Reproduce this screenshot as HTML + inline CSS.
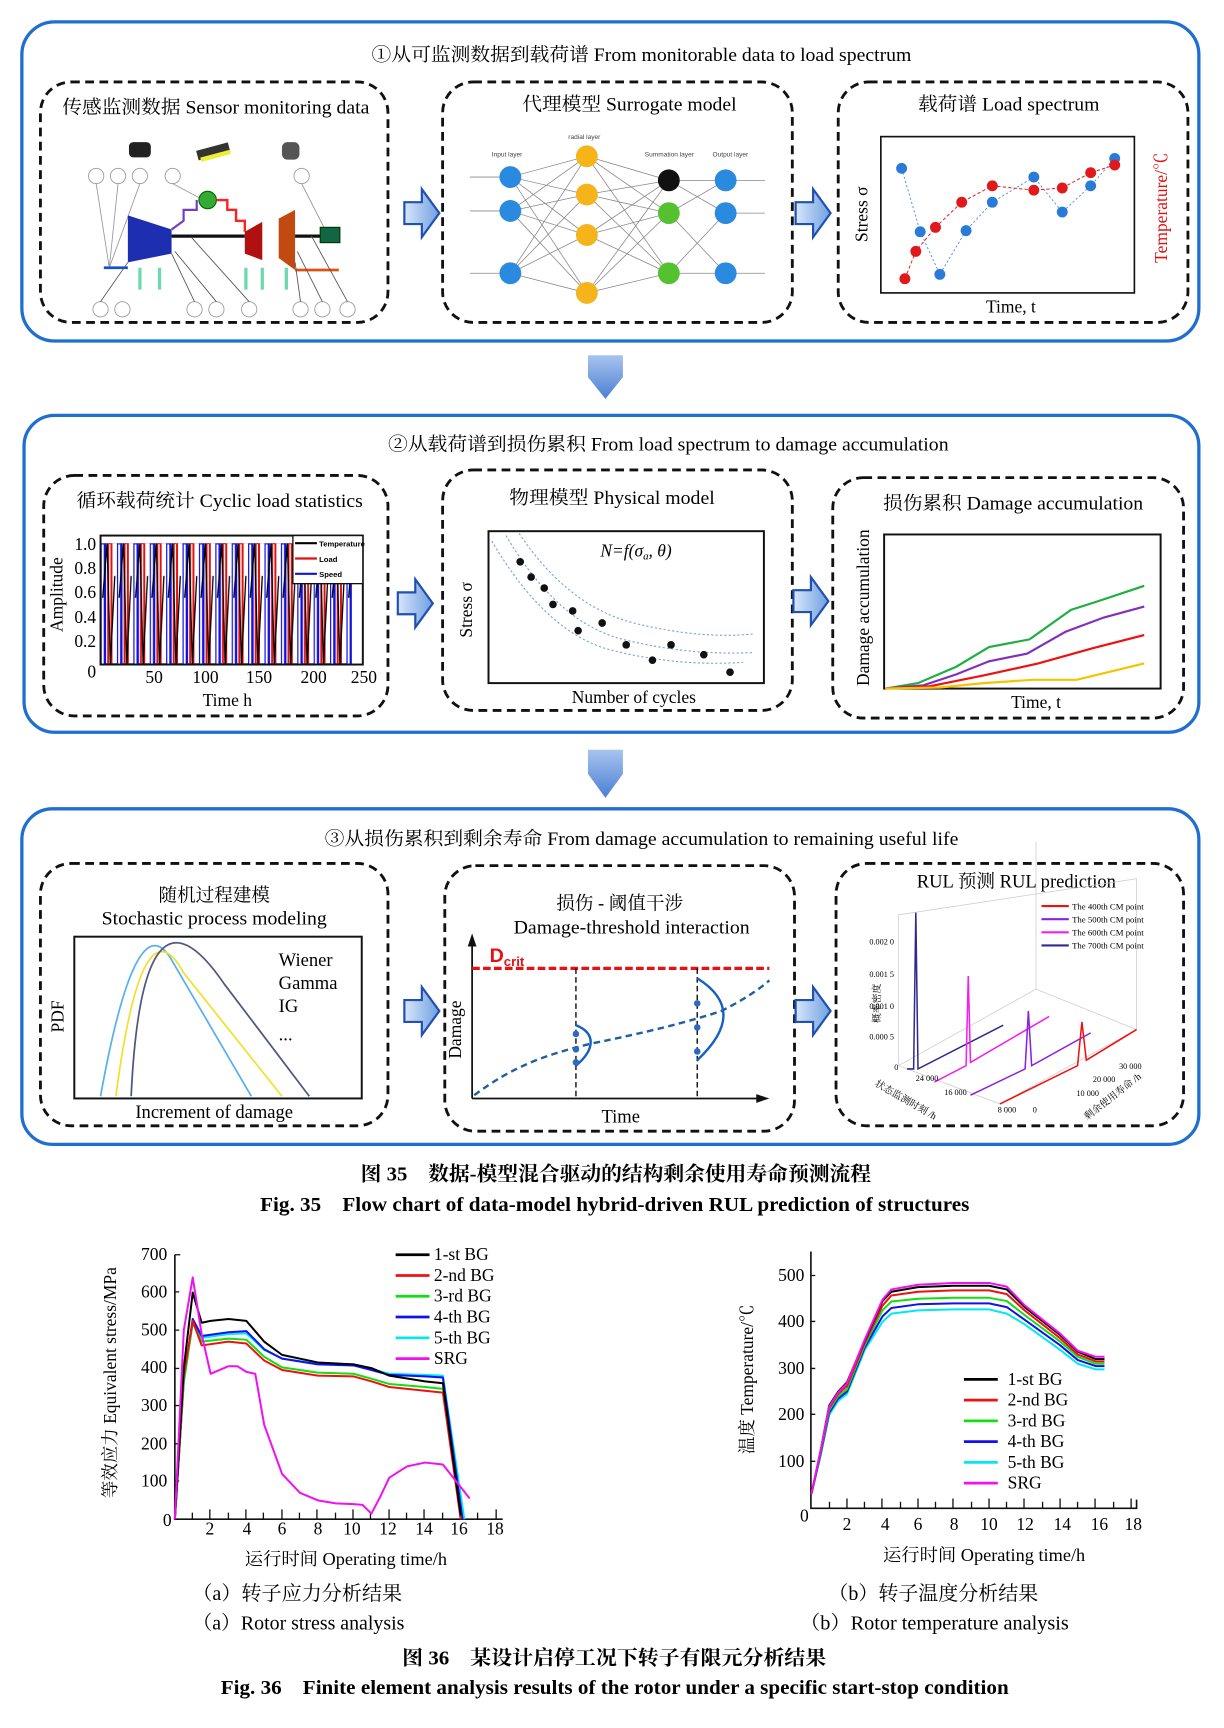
<!DOCTYPE html>
<html><head><meta charset="utf-8"><style>html,body{margin:0;padding:0;background:#fff}svg{display:block}</style></head>
<body>
<svg width="1224" height="1728" viewBox="0 0 1120 1581" preserveAspectRatio="none" xmlns="http://www.w3.org/2000/svg" font-family="'Liberation Serif','Noto Serif CJK SC',serif">
<defs>
<linearGradient id="ag" x1="0" y1="0" x2="1" y2="0"><stop offset="0" stop-color="#d8e6fb"/><stop offset="1" stop-color="#6f9fe0"/></linearGradient>
<linearGradient id="dg" x1="0" y1="0" x2="0" y2="1"><stop offset="0" stop-color="#a8c4ee"/><stop offset="1" stop-color="#4a7fd4"/></linearGradient>
<pattern id="sq" x="92" y="497" width="15" height="111" patternUnits="userSpaceOnUse">
<path d="M0,111 V0 H4 V111 H15" fill="none" stroke="#1010e0" stroke-width="2.2"/>
<path d="M7,111 V0 H10 V111" fill="none" stroke="#e01010" stroke-width="1.8"/>
<path d="M2,50 L6,0 L9,111 L13,30" fill="none" stroke="#000" stroke-width="1.2"/>
</pattern>
<g id="rarrow"><path d="M0,-10 H16 V-22 L32,0 L16,22 V10 H0 Z" fill="url(#ag)" stroke="#2050b0" stroke-width="2"/></g>
</defs>

<!-- ===== Section 1 ===== -->
<rect x="20" y="20" width="1077" height="292" rx="30" fill="#fff" stroke="#1f6fd0" stroke-width="3"/>
<text x="340" y="56" font-size="17" textLength="494" lengthAdjust="spacingAndGlyphs">①从可监测数据到载荷谱 From monitorable data to load spectrum</text>
<g fill="none" stroke="#111" stroke-width="2.6" stroke-dasharray="8,5">
<rect x="37" y="75" width="318" height="220" rx="28"/>
<rect x="405" y="75" width="320" height="220" rx="28"/>
<rect x="767" y="75" width="320" height="220" rx="28"/>
</g>
<text x="57" y="104" font-size="17" textLength="281" lengthAdjust="spacingAndGlyphs">传感监测数据 Sensor monitoring data</text>
<text x="478" y="101" font-size="17" textLength="196" lengthAdjust="spacingAndGlyphs">代理模型 Surrogate model</text>
<text x="840" y="101" font-size="17" textLength="166" lengthAdjust="spacingAndGlyphs">载荷谱 Load spectrum</text>
<!-- engine -->
<g>
<rect x="118" y="130" width="20" height="14" fill="#222" rx="4"/>
<rect x="180" y="134" width="30" height="9" fill="#333" transform="rotate(-15 195 138)"/>
<rect x="182" y="141" width="28" height="4" fill="#ee3" transform="rotate(-15 195 138)"/>
<rect x="258" y="130" width="16" height="16" fill="#555" rx="5"/>
<g fill="none" stroke="#999" stroke-width="0.8"><circle cx="88" cy="161" r="7"/><circle cx="108" cy="161" r="7"/><circle cx="128" cy="161" r="7"/><circle cx="158" cy="161" r="7"/><circle cx="276" cy="161" r="7"/>
<circle cx="92" cy="283" r="7"/><circle cx="112" cy="283" r="7"/><circle cx="178" cy="283" r="7"/><circle cx="198" cy="283" r="7"/><circle cx="228" cy="283" r="7"/><circle cx="275" cy="283" r="7"/><circle cx="295" cy="283" r="7"/><circle cx="318" cy="283" r="7"/>
<path d="M88,168 L100,245 M108,168 L100,245 M128,168 L100,245 M158,168 L190,185 M276,168 L300,215"/></g>
<path d="M117,197 L157,210 L157,232 L117,240 Z" fill="#1d2fb0"/>
<path d="M157,210 L168,202 V192 L180,192 V183" fill="none" stroke="#7040c0" stroke-width="2"/>
<circle cx="190" cy="183" r="8" fill="#3a3" stroke="#060" stroke-width="1"/>
<path d="M198,183 H208 V192 H216 V202 H224 V212" fill="none" stroke="#f22" stroke-width="2.2"/>
<path d="M224,212 L240,203 V238 L224,232 Z" fill="#b01010"/>
<path d="M255,200 L270,192 V247 L255,236 Z" fill="#c04a10"/>
<line x1="157" y1="216" x2="224" y2="216" stroke="#111" stroke-width="3"/>
<line x1="270" y1="216" x2="295" y2="216" stroke="#111" stroke-width="3"/>
<rect x="293" y="208" width="18" height="14" fill="#164" stroke="#030" />
<path d="M95,245 H117" stroke="#1550d0" stroke-width="2.5"/>
<path d="M270,247 H310" stroke="#e05010" stroke-width="2.5"/>
<g stroke="#6ed8b0" stroke-width="3"><path d="M128,265 V245 M146,265 V245 M225,265 V245 M240,265 V245 M262,265 V245"/></g>
<g stroke="#555" stroke-width="0.8" fill="none"><path d="M117,240 L92,276 M157,232 L178,276 M160,230 L198,276 M175,217 L228,276 M270,240 L275,276 M272,230 L295,276 M285,216 L318,276"/></g>
</g>
<!-- network -->
<g stroke="#888" stroke-width="0.7" fill="none">
<path d="M467,162 L537,143 L612,165 M467,162 L537,178 L612,195 M467,162 L537,215 L612,250 M467,162 L537,268 L612,165 M467,193 L537,143 L612,250 M467,193 L537,178 L612,165 M467,193 L537,215 L612,195 M467,193 L537,268 L612,250 M467,250 L537,143 L612,195 M467,250 L537,178 L612,250 M467,250 L537,215 L612,165 M467,250 L537,268 L612,195 M612,165 L664,195 M612,195 L664,165 M612,195 L664,250 M612,250 L664,195 M612,165 L664,165 M612,250 L664,250 M430,162 H467 M430,193 H467 M430,250 H467 M664,165 H700 M664,195 H700 M664,250 H700"/>
</g>
<g fill="#2a8ae0"><circle cx="467" cy="162" r="10"/><circle cx="467" cy="193" r="10"/><circle cx="467" cy="250" r="10"/><circle cx="664" cy="165" r="10"/><circle cx="664" cy="195" r="10"/><circle cx="664" cy="250" r="10"/></g>
<g fill="#f4b41a"><circle cx="537" cy="143" r="10"/><circle cx="537" cy="178" r="10"/><circle cx="537" cy="215" r="10"/><circle cx="537" cy="268" r="10"/></g>
<circle cx="612" cy="165" r="10" fill="#111"/><circle cx="612" cy="195" r="10" fill="#55c030"/><circle cx="612" cy="250" r="10" fill="#55c030"/>
<g font-size="6" font-family="'Liberation Sans',sans-serif" fill="#444"><text x="450" y="143">Input layer</text><text x="520" y="127">radial layer</text><text x="590" y="143">Summation layer</text><text x="652" y="143">Output layer</text></g>
<!-- load spectrum -->
<rect x="806" y="125" width="232" height="143" fill="#fff" stroke="#111" stroke-width="1.5"/>
<polyline points="825,154 842,212 860,251 884,211 908,185 946,162 972,194 998,170 1020,145" fill="none" stroke="#4a8ad8" stroke-width="0.8" stroke-dasharray="2,2"/>
<polyline points="828,255 838,230 856,208 880,185 908,170 946,174 972,172 998,158 1020,151" fill="none" stroke="#e02020" stroke-width="0.9" stroke-dasharray="3,2"/>
<g fill="#2a7ad8"><circle cx="825" cy="154" r="5"/><circle cx="842" cy="212" r="5"/><circle cx="860" cy="251" r="5"/><circle cx="884" cy="211" r="5"/><circle cx="908" cy="185" r="5"/><circle cx="946" cy="162" r="5"/><circle cx="972" cy="194" r="5"/><circle cx="998" cy="170" r="5"/><circle cx="1020" cy="145" r="5"/></g>
<g fill="#e01a1a"><circle cx="828" cy="255" r="5"/><circle cx="838" cy="230" r="5"/><circle cx="856" cy="208" r="5"/><circle cx="880" cy="185" r="5"/><circle cx="908" cy="170" r="5"/><circle cx="946" cy="174" r="5"/><circle cx="972" cy="172" r="5"/><circle cx="998" cy="158" r="5"/><circle cx="1020" cy="151" r="5"/></g>
<text x="925" y="286" font-size="16" text-anchor="middle">Time, t</text>
<text transform="translate(794,196) rotate(-90)" font-size="16" text-anchor="middle">Stress σ</text>
<text transform="translate(1068,190) rotate(-90)" font-size="16" text-anchor="middle" fill="#e01010">Temperature/℃</text>
<use href="#rarrow" x="370" y="195"/><use href="#rarrow" x="728" y="195"/>
<path d="M538,325 H570 V345 L554,365 L538,345 Z" fill="url(#dg)"/>

<!-- ===== Section 2 ===== -->
<rect x="22" y="380" width="1075" height="290" rx="28" fill="#fff" stroke="#1f6fd0" stroke-width="3"/>
<text x="355" y="412" font-size="17" textLength="513" lengthAdjust="spacingAndGlyphs">②从载荷谱到损伤累积 From load spectrum to damage accumulation</text>
<g fill="none" stroke="#111" stroke-width="2.6" stroke-dasharray="8,5">
<rect x="40" y="435" width="315" height="220" rx="28"/>
<rect x="405" y="430" width="320" height="220" rx="28"/>
<rect x="762" y="437" width="321" height="220" rx="28"/>
</g>
<text x="70" y="464" font-size="17" textLength="262" lengthAdjust="spacingAndGlyphs">循环载荷统计 Cyclic load statistics</text>
<text x="466" y="461" font-size="17" textLength="188" lengthAdjust="spacingAndGlyphs">物理模型 Physical model</text>
<text x="808" y="466" font-size="17" textLength="238" lengthAdjust="spacingAndGlyphs">损伤累积 Damage accumulation</text>
<rect x="92" y="497" width="230" height="111" fill="url(#sq)"/>
<rect x="92" y="490" width="240" height="118" fill="none" stroke="#111" stroke-width="1.8"/>
<rect x="268" y="490" width="64" height="44" fill="#fff" stroke="#111" stroke-width="1.2"/>
<g font-size="7" font-family="'Liberation Sans',sans-serif" font-weight="bold"><line x1="270" y1="497" x2="290" y2="497" stroke="#000" stroke-width="2"/><text x="292" y="500">Temperature</text><line x1="270" y1="511" x2="290" y2="511" stroke="#e01010" stroke-width="2"/><text x="292" y="514">Load</text><line x1="270" y1="525" x2="290" y2="525" stroke="#1010e0" stroke-width="2"/><text x="292" y="528">Speed</text></g>
<g font-size="16" text-anchor="end"><text x="88" y="503">1.0</text><text x="88" y="525">0.8</text><text x="88" y="547">0.6</text><text x="88" y="570">0.4</text><text x="88" y="592">0.2</text><text x="88" y="620">0</text></g>
<g font-size="16" text-anchor="middle"><text x="141" y="625">50</text><text x="188" y="625">100</text><text x="237" y="625">150</text><text x="287" y="625">200</text><text x="333" y="625">250</text></g>
<text x="208" y="646" font-size="16" text-anchor="middle">Time h</text>
<text transform="translate(57,544) rotate(-90)" font-size="16" text-anchor="middle">Amplitude</text>
<!-- physical -->
<rect x="447" y="486" width="252" height="139" fill="#fff" stroke="#111" stroke-width="1.8"/>
<text x="582" y="509" font-size="16" font-style="italic" text-anchor="middle">N=f(σ<tspan font-size="10" dy="3">a</tspan><tspan dy="-3">, θ)</tspan></text>
<g fill="none" stroke="#7aa0d0" stroke-width="1" stroke-dasharray="2,2"><path d="M450,495 Q500,580 560,595 T680,606"/><path d="M463,490 Q510,570 570,585 T690,597"/><path d="M475,488 Q520,555 580,570 T690,580"/></g>
<g fill="#111"><circle cx="476" cy="514" r="3.5"/><circle cx="486" cy="528" r="3.5"/><circle cx="498" cy="538" r="3.5"/><circle cx="506" cy="553" r="3.5"/><circle cx="524" cy="559" r="3.5"/><circle cx="529" cy="577" r="3.5"/><circle cx="551" cy="570" r="3.5"/><circle cx="573" cy="590" r="3.5"/><circle cx="597" cy="604" r="3.5"/><circle cx="614" cy="590" r="3.5"/><circle cx="644" cy="599" r="3.5"/><circle cx="668" cy="615" r="3.5"/></g>
<text x="580" y="643" font-size="16" text-anchor="middle">Number of cycles</text>
<text transform="translate(432,558) rotate(-90)" font-size="16" text-anchor="middle">Stress σ</text>
<!-- damage accum -->
<rect x="809" y="489" width="253" height="141" fill="#fff" stroke="#111" stroke-width="1.8"/>
<polyline points="810,630 840,625 875,610 905,592 942,585 980,558 1005,550 1047,536" fill="none" stroke="#1db040" stroke-width="2"/>
<polyline points="810,630 845,627 875,617 905,605 940,598 975,578 1010,565 1047,555" fill="none" stroke="#8030c0" stroke-width="2"/>
<polyline points="810,630 850,628 900,618 950,607 1000,593 1047,581" fill="none" stroke="#f01010" stroke-width="2"/>
<polyline points="810,630 860,629 900,625 945,622 985,622 1047,607" fill="none" stroke="#f4c400" stroke-width="2"/>
<text x="948" y="648" font-size="16" text-anchor="middle">Time, t</text>
<text transform="translate(795,556) rotate(-90)" font-size="16" text-anchor="middle">Damage accumulation</text>
<use href="#rarrow" x="364" y="552"/><use href="#rarrow" x="726" y="550"/>
<path d="M538,686 H570 V708 L554,730 L538,708 Z" fill="url(#dg)"/>

<!-- ===== Section 3 ===== -->
<rect x="20" y="740" width="1077" height="307" rx="28" fill="#fff" stroke="#1f6fd0" stroke-width="3"/>
<text x="297" y="773" font-size="17" textLength="580" lengthAdjust="spacingAndGlyphs">③从损伤累积到剩余寿命 From damage accumulation to remaining useful life</text>
<g fill="none" stroke="#111" stroke-width="2.6" stroke-dasharray="8,5">
<rect x="37" y="790" width="318" height="240" rx="28"/>
<rect x="407" y="792" width="320" height="243" rx="28"/>
<rect x="765" y="790" width="318" height="240" rx="28"/>
</g>
<text x="196" y="825" font-size="17" text-anchor="middle">随机过程建模</text>
<text x="93" y="846" font-size="17" textLength="206" lengthAdjust="spacingAndGlyphs">Stochastic process modeling</text>
<rect x="68" y="857" width="263" height="148" fill="#fff" stroke="#111" stroke-width="1.8"/>
<path d="M92,1003 Q125,820 158,880 L230,1003" fill="none" stroke="#5ab0ec" stroke-width="1.6"/>
<path d="M106,1003 Q130,820 168,890 L258,1003" fill="none" stroke="#f2e030" stroke-width="1.6"/>
<path d="M120,1003 Q130,790 205,900 L283,1003" fill="none" stroke="#505880" stroke-width="1.6"/>
<g font-size="17"><text x="255" y="884">Wiener</text><text x="255" y="905">Gamma</text><text x="255" y="926">IG</text><text x="255" y="952">...</text></g>
<text x="196" y="1023" font-size="17" text-anchor="middle">Increment of damage</text>
<text transform="translate(58,930) rotate(-90)" font-size="16" text-anchor="middle">PDF</text>
<!-- threshold -->
<text x="567" y="832" font-size="17" text-anchor="middle">损伤 - 阈值干涉</text>
<text x="470" y="854" font-size="17" textLength="216" lengthAdjust="spacingAndGlyphs">Damage-threshold interaction</text>
<path d="M432,1005 V858" stroke="#111" stroke-width="1.6"/><path d="M428,866 L432,854 L436,866 Z" fill="#111"/>
<path d="M432,1005 H698" stroke="#111" stroke-width="1.6"/><path d="M692,1001 L704,1005 L692,1009 Z" fill="#111"/>
<line x1="432" y1="886" x2="704" y2="886" stroke="#e81010" stroke-width="3" stroke-dasharray="7,3"/>
<text x="448" y="880" font-size="18" font-weight="bold" fill="#e81010" font-family="'Liberation Sans',sans-serif">D<tspan font-size="12" dy="4">crit</tspan></text>
<path d="M434,1002 C470,975 500,965 540,955 C590,945 630,935 660,925 C680,915 695,905 704,897" fill="none" stroke="#1f5fa0" stroke-width="2.2" stroke-dasharray="6,4"/>
<g stroke="#111" stroke-width="1.3" stroke-dasharray="5,3"><line x1="527" y1="886" x2="527" y2="1005"/><line x1="638" y1="886" x2="638" y2="1005"/></g>
<path d="M527,938 C545,945 545,960 527,975" fill="none" stroke="#1560c0" stroke-width="2.2"/>
<path d="M638,895 C670,915 670,940 638,970" fill="none" stroke="#1560c0" stroke-width="2.2"/>
<g fill="#2a6ac0"><circle cx="527" cy="946" r="3"/><circle cx="527" cy="960" r="3"/><circle cx="527" cy="972" r="3"/><circle cx="638" cy="918" r="3"/><circle cx="638" cy="940" r="3"/><circle cx="638" cy="962" r="3"/></g>
<text x="568" y="1027" font-size="17" text-anchor="middle">Time</text>
<text transform="translate(422,942) rotate(-90)" font-size="16" text-anchor="middle">Damage</text>
<!-- RUL -->
<text x="930" y="812" font-size="17" text-anchor="middle">RUL 预测 RUL prediction</text>
<g stroke="#ccc" stroke-width="0.7" fill="none"><path d="M822,837 V975 L915,1010 L1040,942 V804 Z M822,975 L948,905 L1040,942 M948,905 V770"/></g>
<g fill="none" stroke-width="1.4">
<path d="M830,978 L836,978 L838,835 L840,978 L918,938" stroke="#302a90"/>
<path d="M855,990 L884,975 L886,893 L888,972 L960,930" stroke="#f020f0"/>
<path d="M888,1002 L938,978 L941,925 L944,975 L998,945" stroke="#8a20e0"/>
<path d="M915,1010 L986,975 L990,935 L994,970 L1040,942" stroke="#f01010"/>
</g>
<g font-size="7.5"><text x="818" y="864" text-anchor="end">0.002 0</text><text x="818" y="894" text-anchor="end">0.001 5</text><text x="818" y="923" text-anchor="end">0.001 0</text><text x="818" y="951" text-anchor="end">0.000 5</text><text x="822" y="979" text-anchor="end">0</text>
<text x="838" y="989">24 000</text><text x="864" y="1002">16 000</text><text x="913" y="1018">8 000</text><text x="945" y="1018">0</text><text x="985" y="1003">10 000</text><text x="1000" y="990">20 000</text><text x="1024" y="978">30 000</text></g>
<text transform="translate(800,993) rotate(30)" font-size="9">状态监测时刻 /h</text>
<text transform="translate(995,1025) rotate(-38)" font-size="9">剩余使用寿命 /h</text>
<text transform="translate(805,918) rotate(-90)" font-size="9" text-anchor="middle">概率密度</text>
<g font-size="8"><line x1="953" y1="829" x2="978" y2="829" stroke="#f01010" stroke-width="2"/><text x="981" y="832">The 400th CM point</text>
<line x1="953" y1="841" x2="978" y2="841" stroke="#8a20e0" stroke-width="2"/><text x="981" y="844">The 500th CM point</text>
<line x1="953" y1="853" x2="978" y2="853" stroke="#f020f0" stroke-width="2"/><text x="981" y="856">The 600th CM point</text>
<line x1="953" y1="865" x2="978" y2="865" stroke="#302a90" stroke-width="2"/><text x="981" y="868">The 700th CM point</text></g>
<use href="#rarrow" x="370" y="925"/><use href="#rarrow" x="728" y="925"/>

<!-- captions -->
<text x="330" y="1080" font-size="18" font-weight="bold" textLength="467" lengthAdjust="spacingAndGlyphs">图 35　数据-模型混合驱动的结构剩余使用寿命预测流程</text>
<text x="238" y="1108" font-size="18" font-weight="bold" textLength="649" lengthAdjust="spacingAndGlyphs">Fig. 35　Flow chart of data-model hybrid-driven RUL prediction of structures</text>

<!-- ===== Chart a ===== -->
<g font-size="16">
<path d="M160,1148 V1390 H460" fill="none" stroke="#111" stroke-width="1.5"/>
<g stroke="#111" stroke-width="1.2"><path d="M160,1148 h5 M160,1182 h4 M160,1217 h4 M160,1252 h4 M160,1286 h4 M160,1321 h4 M160,1355 h4"/>
<path d="M176,1390 v-6 M192,1390 v-9 M209,1390 v-6 M225,1390 v-9 M241,1390 v-6 M258,1390 v-9 M274,1390 v-6 M290,1390 v-9 M307,1390 v-6 M323,1390 v-9 M339,1390 v-6 M356,1390 v-9 M372,1390 v-6 M388,1390 v-9 M405,1390 v-6 M421,1390 v-9 M437,1390 v-6 M454,1390 v-9"/></g>
<g text-anchor="end"><text x="153" y="1153">700</text><text x="153" y="1187">600</text><text x="153" y="1222">500</text><text x="153" y="1256">400</text><text x="153" y="1291">300</text><text x="153" y="1326">200</text><text x="153" y="1360">100</text><text x="157" y="1396">0</text></g>
<g text-anchor="middle"><text x="192" y="1404">2</text><text x="226" y="1404">4</text><text x="258" y="1404">6</text><text x="291" y="1404">8</text><text x="322" y="1404">10</text><text x="355" y="1404">12</text><text x="388" y="1404">14</text><text x="420" y="1404">16</text><text x="453" y="1404">18</text></g>
<text x="224" y="1432" textLength="185" lengthAdjust="spacingAndGlyphs">运行时间 Operating time/h</text>
<text transform="translate(106,1265) rotate(-90)" text-anchor="middle">等效应力 Equivalent stress/MPa</text>
</g>
<g fill="none" stroke-width="2" stroke-linejoin="round" transform="translate(160,1390) scale(16.35,-0.3457)">
<polyline vector-effect="non-scaling-stroke" stroke="#00e8f0" points="0,0 0.5,360 1,520 1.5,480 3,490 4,492 5,448 6,425 8,412 10,410 11,398 12,385 14,382 15,380 16.2,0"/>
<polyline vector-effect="non-scaling-stroke" stroke="#1010f0" points="0,0 0.5,370 1,530 1.5,485 3,495 4,498 5,450 6,425 8,410 10,407 11,395 12,382 14,378 15,375 16.1,0"/>
<polyline vector-effect="non-scaling-stroke" stroke="#10e010" points="0,0 0.5,365 1,520 1.5,470 3,478 4,475 5,430 6,402 8,388 10,385 11,372 12,358 14,350 15,345 16,0"/>
<polyline vector-effect="non-scaling-stroke" stroke="#f01010" points="0,0 0.5,380 1,525 1.5,460 3,470 4,465 5,420 6,395 8,380 10,378 11,365 12,350 14,340 15,335 16,0"/>
<polyline vector-effect="non-scaling-stroke" stroke="#000" points="0,0 0.5,400 1,600 1.5,520 2,525 3,530 4,525 5,470 6,435 8,415 10,410 11,400 12,380 14,365 15,360 16,10"/>
<polyline vector-effect="non-scaling-stroke" stroke="#f010f0" points="0,0 0.5,500 1,640 1.5,490 2,385 3,405 3.5,405 4,390 4.5,385 5,250 6,120 7,70 8,50 9,42 10,40 10.5,38 11,15 11.5,60 12,110 13,140 14,150 15,145 16.5,55"/>
</g>
<g font-size="16" stroke-width="2.5">
<line x1="362" y1="1148" x2="393" y2="1148" stroke="#000"/><text x="397" y="1153">1-st BG</text>
<line x1="362" y1="1167" x2="393" y2="1167" stroke="#f01010"/><text x="397" y="1172">2-nd BG</text>
<line x1="362" y1="1186" x2="393" y2="1186" stroke="#10e010"/><text x="397" y="1191">3-rd BG</text>
<line x1="362" y1="1205" x2="393" y2="1205" stroke="#1010f0"/><text x="397" y="1210">4-th BG</text>
<line x1="362" y1="1224" x2="393" y2="1224" stroke="#00e8f0"/><text x="397" y="1229">5-th BG</text>
<line x1="362" y1="1243" x2="393" y2="1243" stroke="#f010f0"/><text x="397" y="1248">SRG</text>
</g>
<text x="176" y="1464" font-size="18" textLength="192" lengthAdjust="spacingAndGlyphs">（a）转子应力分析结果</text>
<text x="176" y="1491" font-size="18" textLength="194" lengthAdjust="spacingAndGlyphs">（a）Rotor stress analysis</text>

<!-- ===== Chart b ===== -->
<g font-size="16">
<path d="M742,1145 V1380 H1040 V1372" fill="none" stroke="#111" stroke-width="1.5"/>
<g stroke="#111" stroke-width="1.2"><path d="M742,1167 h4 M742,1209 h4 M742,1252 h4 M742,1294 h4 M742,1337 h4"/>
<path d="M759,1380 v-6 M775,1380 v-9 M791,1380 v-6 M807,1380 v-9 M824,1380 v-6 M840,1380 v-9 M856,1380 v-6 M872,1380 v-9 M889,1380 v-6 M905,1380 v-9 M921,1380 v-6 M937,1380 v-9 M954,1380 v-6 M970,1380 v-9 M986,1380 v-6 M1002,1380 v-9 M1019,1380 v-6 M1035,1380 v-9"/></g>
<g text-anchor="end"><text x="736" y="1172">500</text><text x="736" y="1214">400</text><text x="736" y="1257">300</text><text x="736" y="1299">200</text><text x="736" y="1342">100</text><text x="740" y="1392">0</text></g>
<g text-anchor="middle"><text x="775" y="1400">2</text><text x="810" y="1400">4</text><text x="840" y="1400">6</text><text x="873" y="1400">8</text><text x="905" y="1400">10</text><text x="938" y="1400">12</text><text x="972" y="1400">14</text><text x="1006" y="1400">16</text><text x="1037" y="1400">18</text></g>
<text x="808" y="1428" textLength="185" lengthAdjust="spacingAndGlyphs">运行时间 Operating time/h</text>
<text transform="translate(689,1262) rotate(-90)" text-anchor="middle">温度 Temperature/℃</text>
</g>
<g fill="none" stroke-width="2" stroke-linejoin="round" transform="translate(742.5,1379.5) scale(16.25,-0.425)">
<polyline vector-effect="non-scaling-stroke" stroke="#00e8f0" points="0,30 0.5,110 1,200 1.5,230 2,245 3,340 4,400 4.5,418 6,425 8,427 10,427 11,418 12,395 14,340 15,310 16,298 16.5,298"/>
<polyline vector-effect="non-scaling-stroke" stroke="#1010f0" points="0,30 0.5,112 1,205 1.5,235 2,250 3,345 4,412 4.5,430 6,438 8,440 10,440 11,432 12,405 14,350 15,318 16,305 16.5,305"/>
<polyline vector-effect="non-scaling-stroke" stroke="#10e010" points="0,30 0.5,115 1,210 1.5,240 2,255 3,350 4,425 4.5,444 6,450 8,452 10,452 11,445 12,415 14,358 15,325 16,310 16.5,310"/>
<polyline vector-effect="non-scaling-stroke" stroke="#f01010" points="0,30 0.5,118 1,215 1.5,245 2,262 3,355 4,435 4.5,457 6,465 8,468 10,468 11,460 12,425 14,365 15,330 16,315 16.5,315"/>
<polyline vector-effect="non-scaling-stroke" stroke="#000" points="0,30 0.5,120 1,220 1.5,250 2,270 3,360 4,445 4.5,465 6,475 8,478 10,478 11,470 12,432 14,372 15,336 16,320 16.5,320"/>
<polyline vector-effect="non-scaling-stroke" stroke="#f010f0" points="0,30 0.5,120 1,218 1.5,248 2,268 3,362 4,448 4.5,470 6,480 8,484 10,484 11,476 12,436 14,375 15,338 16,325 16.5,325"/>
</g>
<g font-size="16" stroke-width="2.5">
<line x1="882" y1="1262" x2="913" y2="1262" stroke="#000"/><text x="922" y="1267">1-st BG</text>
<line x1="882" y1="1281" x2="913" y2="1281" stroke="#f01010"/><text x="922" y="1286">2-nd BG</text>
<line x1="882" y1="1300" x2="913" y2="1300" stroke="#10e010"/><text x="922" y="1305">3-rd BG</text>
<line x1="882" y1="1319" x2="913" y2="1319" stroke="#1010f0"/><text x="922" y="1324">4-th BG</text>
<line x1="882" y1="1338" x2="913" y2="1338" stroke="#00e8f0"/><text x="922" y="1343">5-th BG</text>
<line x1="882" y1="1357" x2="913" y2="1357" stroke="#f010f0"/><text x="922" y="1362">SRG</text>
</g>
<text x="758" y="1464" font-size="18" textLength="192" lengthAdjust="spacingAndGlyphs">（b）转子温度分析结果</text>
<text x="732" y="1491" font-size="18" textLength="246" lengthAdjust="spacingAndGlyphs">（b）Rotor temperature analysis</text>

<text x="368" y="1523" font-size="18" font-weight="bold" textLength="388" lengthAdjust="spacingAndGlyphs">图 36　某设计启停工况下转子有限元分析结果</text>
<text x="202" y="1550" font-size="18" font-weight="bold" textLength="721" lengthAdjust="spacingAndGlyphs">Fig. 36　Finite element analysis results of the rotor under a specific start-stop condition</text>
</svg>
</body></html>
